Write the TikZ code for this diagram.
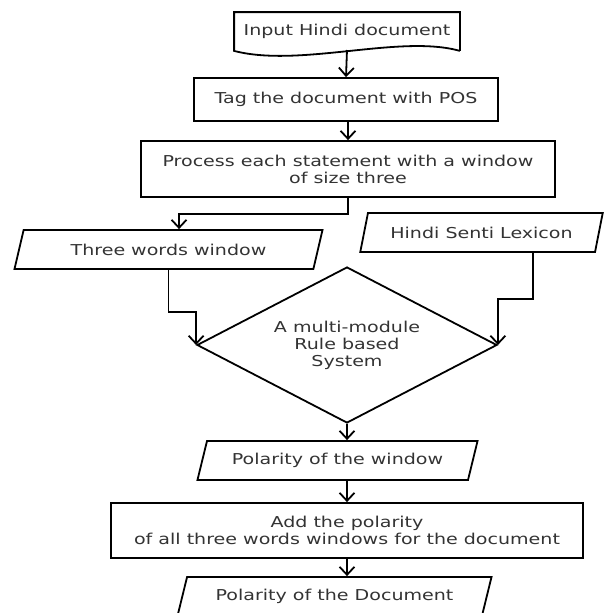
\documentclass[tikz,border=0pt]{standalone}
\usepackage{fontspec}
\setmainfont[FakeStretch=1.27]{DejaVu Sans}
\usetikzlibrary{shapes.geometric, arrows.meta}

\begin{document}
\begin{tikzpicture}[x=1pt, y=-1pt, line width=1.8pt,
        every node/.style={font=\fontsize{15}{17}\selectfont, text=black!80, align=center},
        procbox/.style={draw, rectangle, inner sep=0pt},
        iobox/.style={draw, trapezium, trapezium left angle=62, trapezium right angle=118, trapezium stretches=true, inner sep=0pt},
        flow/.style={-{Straight Barb[length=8pt, width=15pt]}}]
        \useasboundingbox (0,0) rectangle (604,613);
        % document shape with wavy bottom
        \node[minimum width=224pt, minimum height=37pt, inner sep=0pt] (inp) at (347,31.5) {Input Hindi document};
        \draw (inp.south east) -- (inp.north east) -- (inp.north west) -- (inp.south west)
            .. controls (300,68) and (400,34) .. (inp.south east);
        \node[procbox, minimum width=304pt, minimum height=43pt] (tag) at (346,99.5) {Tag the document with POS};
        \node[procbox, minimum width=414pt, minimum height=56pt] (proc) at (348,169) {Process each statement with a window\\of size three};
        \node[iobox, minimum width=309pt, minimum height=39pt] (three) at (168.5,249.5) {Three words window};
        \node[iobox, minimum width=243pt, minimum height=39pt] (lex) at (481.5,232.5) {Hindi Senti Lexicon};
        \node[draw, diamond, aspect=1.92, minimum width=300pt, minimum height=156pt, inner sep=0pt] (dia) at (347,345) {A multi-module\\Rule based\\System};
        \node[iobox, minimum width=281pt, minimum height=39pt] (polw) at (337.5,460.5) {Polarity of the window};
        \node[procbox, minimum width=472pt, minimum height=55pt] (add) at (347,530.5) {Add the polarity\\of all three words windows for the document};
        \node[iobox, minimum width=315pt, minimum height=39pt] (pold) at (334.5,596.5) {Polarity of the Document};

        \draw[flow] (347,50) -- (tag.north);
        \draw[flow] (tag.south -| proc.north) -- (proc.north);
        \draw[flow] (proc.south) -- ++(0,16) -| ([xshift=10.5pt]three.north);
        \draw[flow] (three.south) -- ++(0,42) -| (dia.west);
        \draw[flow] ([xshift=51.5pt]lex.south) -- ++(0,46) -| (dia.east);
        \draw[flow] (dia.south) -- (dia.south |- polw.north);
        \draw[flow] (polw.south -| add.north) -- (add.north);
        \draw[flow] (add.south) -- (add.south |- pold.north);
\end{tikzpicture}
\end{document}
